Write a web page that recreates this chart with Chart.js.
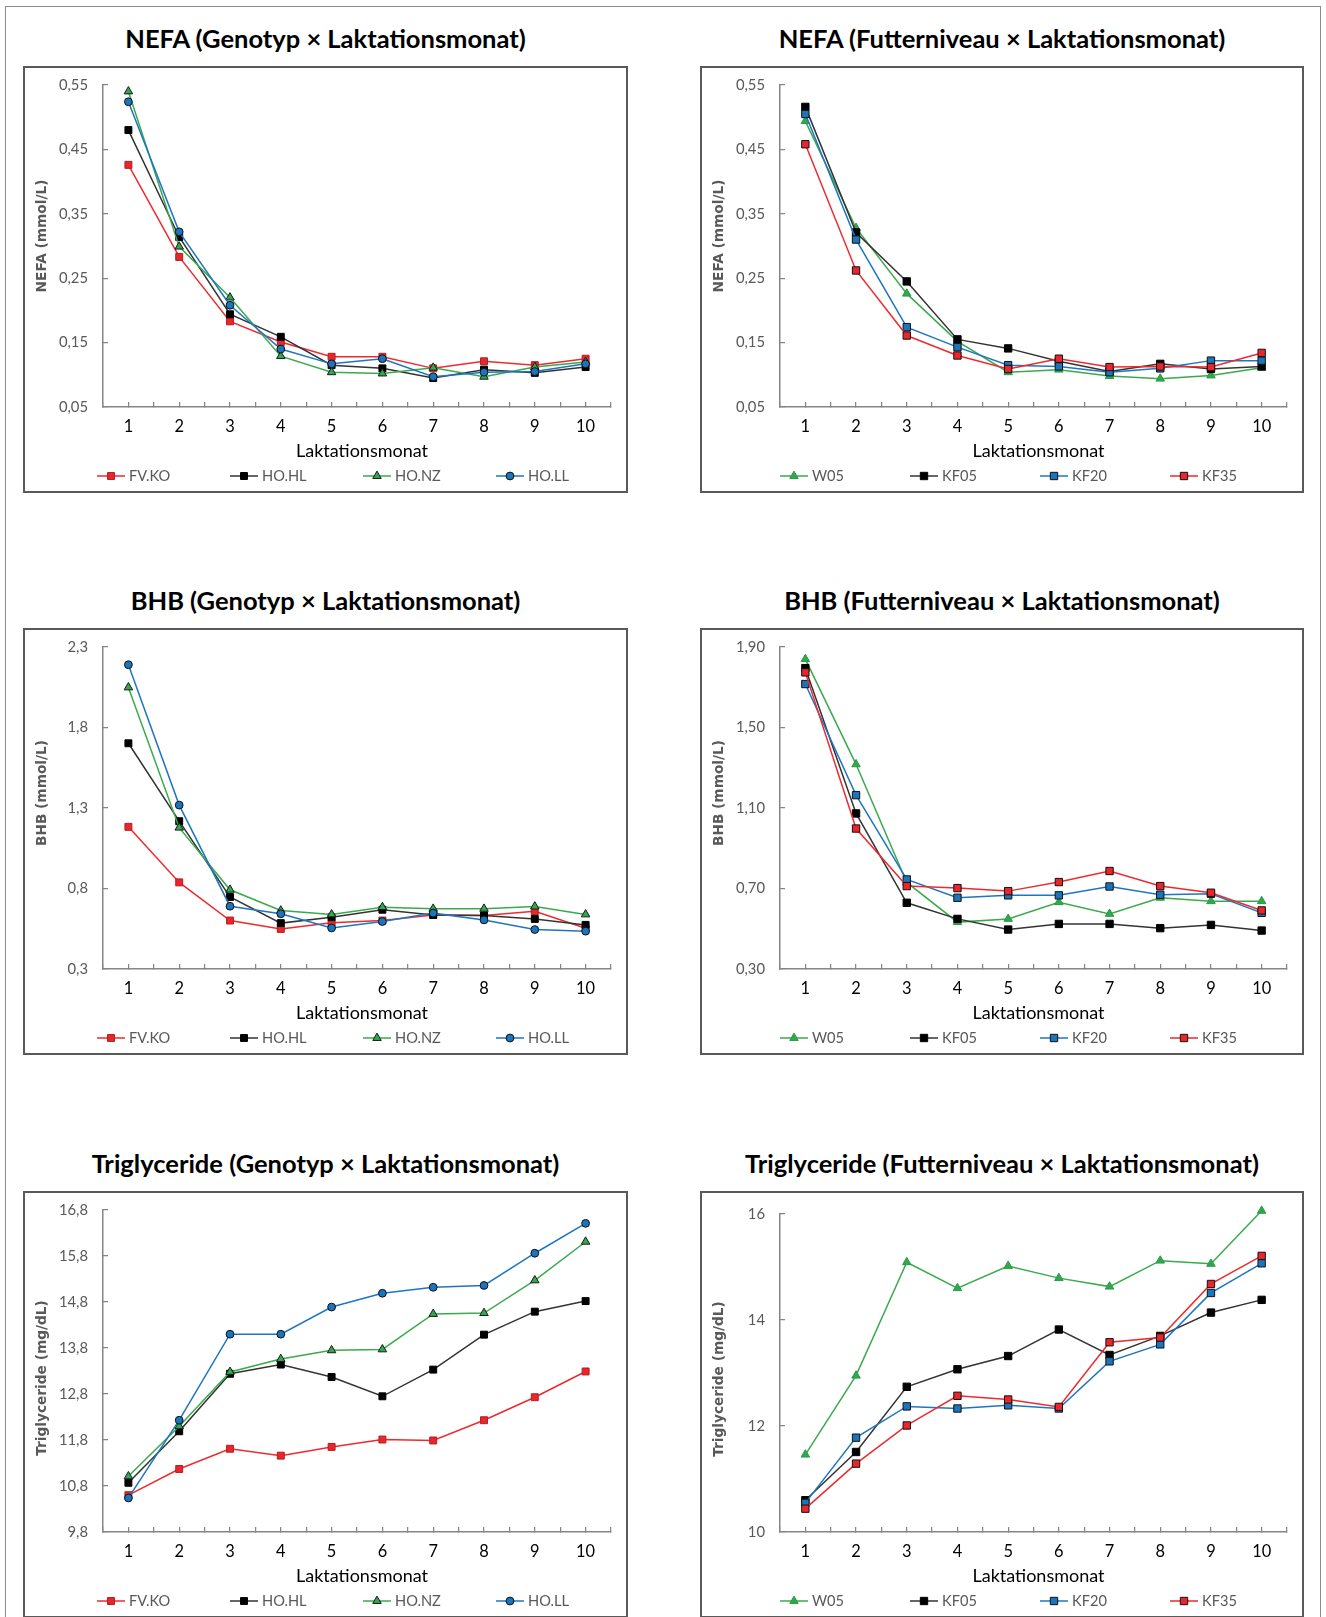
<!DOCTYPE html>
<html lang="de">
<head>
    <meta charset="UTF-8">
    <title>NEFA, BHB und Triglyceride nach Laktationsmonat</title>
    <style>
        body {
            margin: 0;
            width: 1326px;
            height: 1617px;
            overflow: hidden;
            position: relative;
            background: #ffffff;
            font-family: Lato, sans-serif;
        }
        .page-border {
            position: absolute;
            left: 5px;
            top: 6px;
            width: 1316px;
            height: 1700px;
            border: 1px solid #8c8c8c;
            box-sizing: border-box;
        }
        .chart-title {
            position: absolute;
            text-align: center;
            font: bold 25.5px Lato, sans-serif;
            line-height: 30px;
            color: #000000;
            white-space: nowrap;
        }
        .chart-frame {
            position: absolute;
            height: 427px;
            border: 2px solid #595959;
            box-sizing: border-box;
        }
        .chart-frame canvas {
            position: absolute;
            left: 0;
            top: 0;
        }
    </style>
    <script src="https://cdn.jsdelivr.net/npm/chart.js"></script>
</head>
<body>
    <div class="page-border"></div>

    <div class="chart-title" style="left:23px; top:23px; width:605px">NEFA (Genotyp × Laktationsmonat)</div>
    <div class="chart-frame" style="left:23px; top:66px; width:605px"><canvas id="c1" width="601" height="423"></canvas></div>
    <div class="chart-title" style="left:700px; top:23px; width:604px">NEFA (Futterniveau × Laktationsmonat)</div>
    <div class="chart-frame" style="left:700px; top:66px; width:604px"><canvas id="c2" width="600" height="423"></canvas></div>

    <div class="chart-title" style="left:23px; top:585px; width:605px">BHB (Genotyp × Laktationsmonat)</div>
    <div class="chart-frame" style="left:23px; top:628px; width:605px"><canvas id="c3" width="601" height="423"></canvas></div>
    <div class="chart-title" style="left:700px; top:585px; width:604px">BHB (Futterniveau × Laktationsmonat)</div>
    <div class="chart-frame" style="left:700px; top:628px; width:604px"><canvas id="c4" width="600" height="423"></canvas></div>

    <div class="chart-title" style="left:23px; top:1148px; width:605px">Triglyceride (Genotyp × Laktationsmonat)</div>
    <div class="chart-frame" style="left:23px; top:1191px; width:605px"><canvas id="c5" width="601" height="423"></canvas></div>
    <div class="chart-title" style="left:700px; top:1148px; width:604px">Triglyceride (Futterniveau × Laktationsmonat)</div>
    <div class="chart-frame" style="left:700px; top:1191px; width:604px"><canvas id="c6" width="600" height="423"></canvas></div>

    <script>
        const months = [1, 2, 3, 4, 5, 6, 7, 8, 9, 10];
        const genotypes = ['FV.KO', 'HO.HL', 'HO.NZ', 'HO.LL'];
        const feedLevels = ['W05', 'KF05', 'KF20', 'KF35'];

        // NEFA (mmol/L)
        const nefaTicks = [0.05, 0.15, 0.25, 0.35, 0.45, 0.55];
        const nefaFVKO = [0.426, 0.283, 0.183, 0.151, 0.128, 0.128, 0.110, 0.121, 0.115, 0.125];
        const nefaHOHL = [0.480, 0.314, 0.194, 0.159, 0.115, 0.110, 0.095, 0.108, 0.103, 0.112];
        const nefaHONZ = [0.540, 0.299, 0.220, 0.129, 0.104, 0.102, 0.111, 0.097, 0.112, 0.120];
        const nefaHOLL = [0.524, 0.322, 0.208, 0.140, 0.117, 0.125, 0.097, 0.104, 0.105, 0.117];
        const nefaW05 = [0.494, 0.328, 0.226, 0.152, 0.104, 0.108, 0.098, 0.094, 0.099, 0.111];
        const nefaKF05 = [0.516, 0.321, 0.245, 0.155, 0.141, 0.121, 0.105, 0.117, 0.109, 0.113];
        const nefaKF20 = [0.505, 0.310, 0.174, 0.143, 0.115, 0.113, 0.104, 0.110, 0.122, 0.122];
        const nefaKF35 = [0.458, 0.262, 0.161, 0.130, 0.109, 0.125, 0.112, 0.113, 0.112, 0.134];

        // BHB (mmol/L)
        const bhbGenoTicks = [0.3, 0.8, 1.3, 1.8, 2.3];
        const bhbFeedTicks = [0.30, 0.70, 1.10, 1.50, 1.90];
        const bhbFVKO = [1.183, 0.838, 0.601, 0.549, 0.587, 0.601, 0.636, 0.632, 0.659, 0.553];
        const bhbHOHL = [1.702, 1.218, 0.747, 0.585, 0.622, 0.668, 0.636, 0.632, 0.611, 0.574];
        const bhbHONZ = [2.049, 1.178, 0.792, 0.663, 0.639, 0.684, 0.674, 0.674, 0.688, 0.639];
        const bhbHOLL = [2.190, 1.318, 0.690, 0.643, 0.555, 0.595, 0.647, 0.605, 0.545, 0.535];
        const bhbW05 = [1.840, 1.317, 0.730, 0.533, 0.549, 0.632, 0.574, 0.654, 0.637, 0.637];
        const bhbKF05 = [1.795, 1.073, 0.629, 0.549, 0.496, 0.524, 0.524, 0.503, 0.519, 0.491];
        const bhbKF20 = [1.716, 1.164, 0.745, 0.654, 0.666, 0.666, 0.710, 0.669, 0.674, 0.579];
        const bhbKF35 = [1.774, 0.998, 0.712, 0.702, 0.687, 0.732, 0.787, 0.712, 0.679, 0.591];

        // Triglyceride (mg/dL)
        const tgGenoTicks = [9.8, 10.8, 11.8, 12.8, 13.8, 14.8, 15.8, 16.8];
        const tgFeedTicks = [10, 12, 14, 16];
        const tgFVKO = [10.60, 11.17, 11.61, 11.46, 11.65, 11.81, 11.79, 12.23, 12.73, 13.29];
        const tgHOHL = [10.87, 11.99, 13.24, 13.44, 13.17, 12.75, 13.33, 14.09, 14.59, 14.82];
        const tgHONZ = [11.01, 12.10, 13.28, 13.56, 13.75, 13.77, 14.54, 14.56, 15.27, 16.11];
        const tgHOLL = [10.54, 12.23, 14.10, 14.10, 14.69, 14.99, 15.12, 15.16, 15.86, 16.51];
        const tgW05 = [11.46, 12.95, 15.09, 14.60, 15.02, 14.79, 14.63, 15.12, 15.06, 16.06];
        const tgKF05 = [10.60, 11.51, 12.74, 13.07, 13.32, 13.82, 13.34, 13.70, 14.14, 14.38];
        const tgKF20 = [10.55, 11.78, 12.37, 12.33, 12.39, 12.33, 13.22, 13.54, 14.51, 15.07];
        const tgKF35 = [10.44, 11.29, 12.01, 12.57, 12.50, 12.36, 13.58, 13.67, 14.68, 15.21];

        // line / marker look per series
        const seriesStyle = {
            'FV.KO': { line: '#ee2a2f', fill: '#e8262b', edge: '#b41e22', shape: 'rect', radius: 4.9 },
            'HO.HL': { line: '#333333', fill: '#000000', edge: '#000000', shape: 'rect', radius: 4.9 },
            'HO.NZ': { line: '#3aaa4c', fill: '#2fa84f', edge: '#1a1a1a', shape: 'triangle', radius: 4.9 },
            'HO.LL': { line: '#1e76c2', fill: '#1b75bc', edge: '#111111', shape: 'circle', radius: 3.9 },
            'W05': { line: '#3aaa4c', fill: '#2fa84f', edge: '#2a9a45', shape: 'triangle', radius: 4.9 },
            'KF05': { line: '#333333', fill: '#000000', edge: '#000000', shape: 'rect', radius: 5.2 },
            'KF20': { line: '#1e76c2', fill: '#1b75bc', edge: '#111111', shape: 'rect', radius: 5.2 },
            'KF35': { line: '#ee2a2f', fill: '#e8262b', edge: '#111111', shape: 'rect', radius: 5.2 }
        };

        // legend in one row, drawn like the Excel legend (line with marker)
        const rowLegend = {
            id: 'rowLegend',
            afterDraw(chart, args, opts) {
                const ctx = chart.ctx;
                ctx.save();
                ctx.font = '14.6px Lato, sans-serif';
                ctx.textBaseline = 'middle';
                chart.data.datasets.forEach((ds, i) => {
                    const x = opts.x + i * opts.step;
                    const y = opts.y;
                    ctx.strokeStyle = ds.borderColor;
                    ctx.lineWidth = ds.borderWidth;
                    ctx.beginPath();
                    ctx.moveTo(x, y);
                    ctx.lineTo(x + 28, y);
                    ctx.stroke();
                    ctx.fillStyle = ds.pointBackgroundColor;
                    ctx.strokeStyle = ds.pointBorderColor;
                    ctx.lineWidth = ds.pointBorderWidth;
                    Chart.helpers.drawPoint(ctx, {
                        pointStyle: ds.pointStyle,
                        radius: ds.pointRadius,
                        rotation: 0,
                        borderWidth: ds.pointBorderWidth
                    }, x + 14, y);
                    ctx.fillStyle = '#595959';
                    ctx.fillText(ds.label, x + 32, y);
                });
                ctx.restore();
            }
        };

        // axis titles placed where Excel put them
        const axisTitles = {
            id: 'axisTitles',
            afterDraw(chart, args, opts) {
                const { ctx, chartArea } = chart;
                ctx.save();
                ctx.textAlign = 'center';
                ctx.textBaseline = 'middle';
                ctx.fillStyle = '#000000';
                ctx.font = '18px Lato, sans-serif';
                ctx.fillText(opts.xText, (chartArea.left + chartArea.right) / 2 + 5, opts.xY);
                ctx.translate(opts.yX, opts.yY);
                ctx.rotate(-Math.PI / 2);
                ctx.fillStyle = '#595959';
                ctx.font = 'bold 13.7px "DejaVu Sans", sans-serif';
                ctx.fillText(opts.yText, 0, 0);
                ctx.restore();
            }
        };

        const panels = [
            { id: 'c1', names: genotypes, values: [nefaFVKO, nefaHOHL, nefaHONZ, nefaHOLL], ticks: nefaTicks, digits: 2, yTitle: 'NEFA (mmol/L)', top: 17, yTitleY: 168, legendX: 72, legendStep: 133 },
            { id: 'c2', names: feedLevels, values: [nefaW05, nefaKF05, nefaKF20, nefaKF35], ticks: nefaTicks, digits: 2, yTitle: 'NEFA (mmol/L)', top: 17, yTitleY: 168, legendX: 78, legendStep: 130 },
            { id: 'c3', names: genotypes, values: [bhbFVKO, bhbHOHL, bhbHONZ, bhbHOLL], ticks: bhbGenoTicks, digits: 1, yTitle: 'BHB (mmol/L)', top: 17, yTitleY: 163, legendX: 72, legendStep: 133 },
            { id: 'c4', names: feedLevels, values: [bhbW05, bhbKF05, bhbKF20, bhbKF35], ticks: bhbFeedTicks, digits: 2, yTitle: 'BHB (mmol/L)', top: 17, yTitleY: 163, legendX: 78, legendStep: 130 },
            { id: 'c5', names: genotypes, values: [tgFVKO, tgHOHL, tgHONZ, tgHOLL], ticks: tgGenoTicks, digits: 1, yTitle: 'Triglyceride (mg/dL)', top: 17, yTitleY: 185, legendX: 72, legendStep: 133 },
            { id: 'c6', names: feedLevels, values: [tgW05, tgKF05, tgKF20, tgKF35], ticks: tgFeedTicks, digits: 0, yTitle: 'Triglyceride (mg/dL)', top: 21, yTitleY: 186, legendX: 78, legendStep: 130 }
        ];

        Chart.defaults.font.family = 'Lato, sans-serif';

        panels.forEach(p => {
            const canvas = document.getElementById(p.id);
            const datasets = p.names.map((name, i) => {
                const s = seriesStyle[name];
                return {
                    label: name,
                    data: months.map((m, k) => ({ x: m, y: p.values[i][k] })),
                    borderColor: s.line,
                    borderWidth: 1.5,
                    backgroundColor: s.fill,
                    pointStyle: s.shape,
                    pointRadius: s.radius,
                    pointBackgroundColor: s.fill,
                    pointBorderColor: s.edge,
                    pointBorderWidth: 1,
                    tension: 0,
                    clip: false,
                    order: p.names.length - i
                };
            });
            const step = Math.round((p.ticks[1] - p.ticks[0]) * 1000) / 1000;

            new Chart(canvas.getContext('2d'), {
                type: 'line',
                data: { datasets: datasets },
                options: {
                    responsive: false,
                    animation: false,
                    layout: { padding: { top: p.top, right: 15, bottom: 28, left: 0 } },
                    plugins: {
                        legend: { display: false },
                        tooltip: { enabled: false },
                        rowLegend: { x: p.legendX, step: p.legendStep, y: 408 },
                        axisTitles: { xText: 'Laktationsmonat', xY: 383, yText: p.yTitle, yX: 17, yY: p.yTitleY }
                    },
                    scales: {
                        x: {
                            type: 'linear',
                            min: months[0] - 0.5,
                            max: months[months.length - 1] + 0.5,
                            afterFit: scale => {
                                scale.height = 56;
                                scale.paddingLeft = 0;
                                scale.paddingRight = 0;
                            },
                            ticks: {
                                stepSize: 0.5,
                                autoSkip: false,
                                maxRotation: 0,
                                padding: 15,
                                color: '#000000',
                                font: { size: 16.4 },
                                callback: v => Number.isInteger(v) ? String(v) : ''
                            },
                            grid: { drawOnChartArea: false, drawTicks: true, tickLength: -5, color: '#868686', lineWidth: 1.25 },
                            border: { color: '#868686', width: 1.5 }
                        },
                        y: {
                            min: p.ticks[0],
                            max: p.ticks[p.ticks.length - 1],
                            afterFit: scale => {
                                scale.width = 78;
                                scale.paddingTop = 0;
                                scale.paddingBottom = 0;
                            },
                            ticks: {
                                stepSize: step,
                                padding: 20,
                                color: '#595959',
                                font: { size: 14.8 },
                                callback: v => v.toFixed(p.digits).replace('.', ',')
                            },
                            grid: { drawOnChartArea: false, drawTicks: true, tickLength: -5, color: '#868686', lineWidth: 1.25 },
                            border: { color: '#868686', width: 1.5 }
                        }
                    }
                },
                plugins: [rowLegend, axisTitles]
            });
        });
    </script>
</body>
</html>
